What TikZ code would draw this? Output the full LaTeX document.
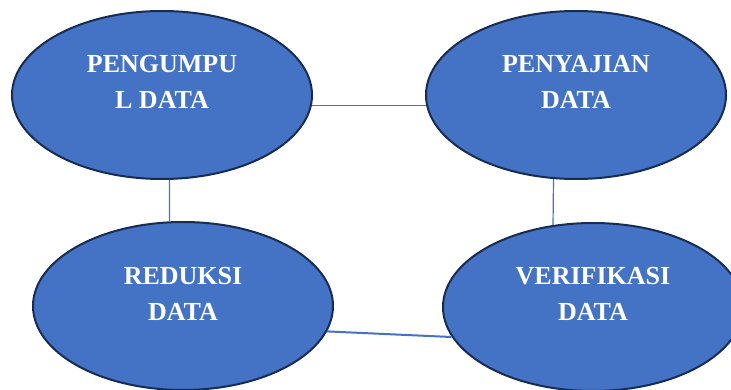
\documentclass[tikz,border=0pt]{standalone}
\usepackage{fontspec}
\setmainfont{Liberation Serif}
\usepackage{tikz}
\usetikzlibrary{shapes.geometric}
\definecolor{boxblue}{HTML}{4472C4}
\definecolor{rimblue}{HTML}{172C51}

\begin{document}
\begin{tikzpicture}[x=1pt, y=-1pt, semithick,
	blob/.style={ellipse, draw=rimblue, line width=2pt, fill=boxblue, minimum width=300pt, minimum height=168pt, inner sep=0pt},
	word/.style={text=white, font=\fontsize{26}{36}\selectfont\bfseries, align=center},
	link/.style={color=boxblue, line width=1.2pt}]
		\useasboundingbox (0,0) rectangle (731,390);
		\clip (0,0) rectangle (731,390);

		\node[blob] (PD) at (162,95)  {};
		\node[blob] (PJ) at (576,95)  {};
		\node[blob] (RD) at (183,306) {};
		\node[blob] (VD) at (593,307) {};

		\node[word] (PDt) at (162,82)  {PENGUMPU\\L DATA};
		\node[word] (PJt) at (576,82)  {PENYAJIAN\\DATA};
		\node[word] (RDt) at (183,294) {REDUKSI\\DATA};
		\node[word] (VDt) at (593,294) {VERIFIKASI\\DATA};

		\path	(PD.-4)	 edge[link] (PJ.184)
				(PD.-85) edge[link] (RD.99)
				(PJ.-105) edge[link] (VD.116)
				(RD.-10) edge[link, line width=2pt] (VD.192);

\end{tikzpicture}
\end{document}
